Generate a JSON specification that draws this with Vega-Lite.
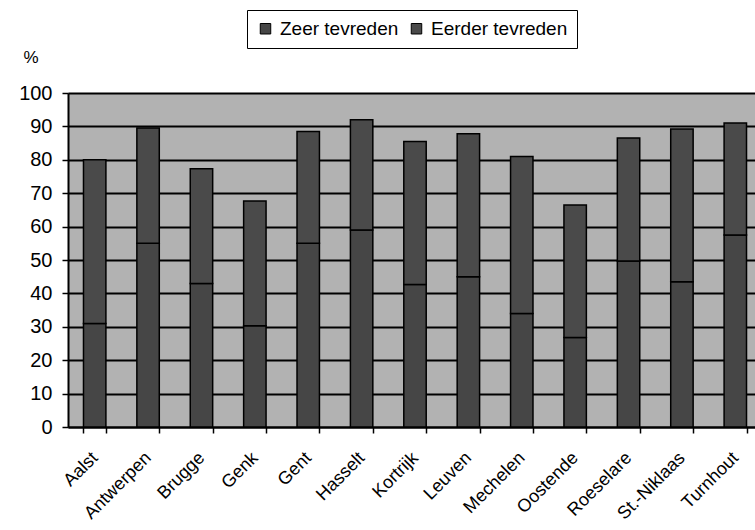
{
  "$schema": "https://vega.github.io/schema/vega-lite/v6.json",
  "width": 687,
  "height": 334,
  "autosize": {"type": "none"},
  "padding": {"left": 68, "top": 93, "right": 0, "bottom": 103},
  "background": "white",
  "config": {"view": {"stroke": null, "fill": "#b2b2b2"}, "font": "Liberation Sans"},
  "data": {"values": [
    {"city": "Aalst", "series": "Zeer tevreden", "value": 31, "ord": 0},
    {"city": "Aalst", "series": "Eerder tevreden", "value": 49, "ord": 1},
    {"city": "Antwerpen", "series": "Zeer tevreden", "value": 55, "ord": 0},
    {"city": "Antwerpen", "series": "Eerder tevreden", "value": 34.5, "ord": 1},
    {"city": "Brugge", "series": "Zeer tevreden", "value": 43, "ord": 0},
    {"city": "Brugge", "series": "Eerder tevreden", "value": 34.3, "ord": 1},
    {"city": "Genk", "series": "Zeer tevreden", "value": 30.3, "ord": 0},
    {"city": "Genk", "series": "Eerder tevreden", "value": 37.4, "ord": 1},
    {"city": "Gent", "series": "Zeer tevreden", "value": 55, "ord": 0},
    {"city": "Gent", "series": "Eerder tevreden", "value": 33.5, "ord": 1},
    {"city": "Hasselt", "series": "Zeer tevreden", "value": 59, "ord": 0},
    {"city": "Hasselt", "series": "Eerder tevreden", "value": 33, "ord": 1},
    {"city": "Kortrijk", "series": "Zeer tevreden", "value": 42.7, "ord": 0},
    {"city": "Kortrijk", "series": "Eerder tevreden", "value": 42.8, "ord": 1},
    {"city": "Leuven", "series": "Zeer tevreden", "value": 45, "ord": 0},
    {"city": "Leuven", "series": "Eerder tevreden", "value": 42.8, "ord": 1},
    {"city": "Mechelen", "series": "Zeer tevreden", "value": 34, "ord": 0},
    {"city": "Mechelen", "series": "Eerder tevreden", "value": 47, "ord": 1},
    {"city": "Oostende", "series": "Zeer tevreden", "value": 26.8, "ord": 0},
    {"city": "Oostende", "series": "Eerder tevreden", "value": 39.7, "ord": 1},
    {"city": "Roeselare", "series": "Zeer tevreden", "value": 49.7, "ord": 0},
    {"city": "Roeselare", "series": "Eerder tevreden", "value": 36.8, "ord": 1},
    {"city": "St.-Niklaas", "series": "Zeer tevreden", "value": 43.5, "ord": 0},
    {"city": "St.-Niklaas", "series": "Eerder tevreden", "value": 45.7, "ord": 1},
    {"city": "Turnhout", "series": "Zeer tevreden", "value": 57.5, "ord": 0},
    {"city": "Turnhout", "series": "Eerder tevreden", "value": 33.5, "ord": 1}
  ]},
  "mark": {"type": "bar", "stroke": "black", "strokeWidth": 1.5},
  "encoding": {
    "x": {
      "field": "city", "type": "nominal", "sort": null,
      "scale": {"range": [0, 694], "paddingInner": 0.58, "paddingOuter": 0.29},
      "axis": {
        "title": null, "labelAngle": -45, "labelAlign": "right", "labelBaseline": "middle",
        "labelFontSize": 18, "labelColor": "black", "labelPadding": 22,
        "tickBand": "extent", "ticks": true, "tickColor": "black", "tickSize": 6, "tickWidth": 1.5,
        "domainColor": "black", "domainWidth": 2, "grid": false
      }
    },
    "y": {
      "field": "value", "type": "quantitative", "stack": "zero",
      "scale": {"domain": [0, 100], "nice": false},
      "axis": {
        "values": [0, 10, 20, 30, 40, 50, 60, 70, 80, 90, 100],
        "grid": true, "gridColor": "black", "gridWidth": 2,
        "domainColor": "black", "domainWidth": 2,
        "tickColor": "black", "tickSize": 6, "tickWidth": 1.5,
        "labelFontSize": 20, "labelColor": "black", "labelPadding": 10,
        "title": "%", "titleAngle": 0, "titleX": -45, "titleY": -36,
        "titleAlign": "left", "titleBaseline": "middle",
        "titleFontSize": 17, "titleFontWeight": "normal", "titleColor": "black"
      }
    },
    "color": {
      "field": "series", "type": "nominal",
      "scale": {"domain": ["Zeer tevreden", "Eerder tevreden"], "range": ["#464646", "#4a4a4a"]},
      "legend": {
        "title": null, "orient": "none", "legendX": 179, "legendY": -83,
        "direction": "horizontal", "strokeColor": "black", "padding": 9,
        "symbolType": "square", "symbolSize": 110, "symbolStrokeColor": "black", "symbolStrokeWidth": 1,
        "labelFontSize": 19, "labelColor": "black", "labelOffset": 5, "columnPadding": 8, "symbolOffset": 0,
        "labelLimit": 300
      }
    },
    "order": {"field": "ord", "type": "quantitative"}
  }
}
